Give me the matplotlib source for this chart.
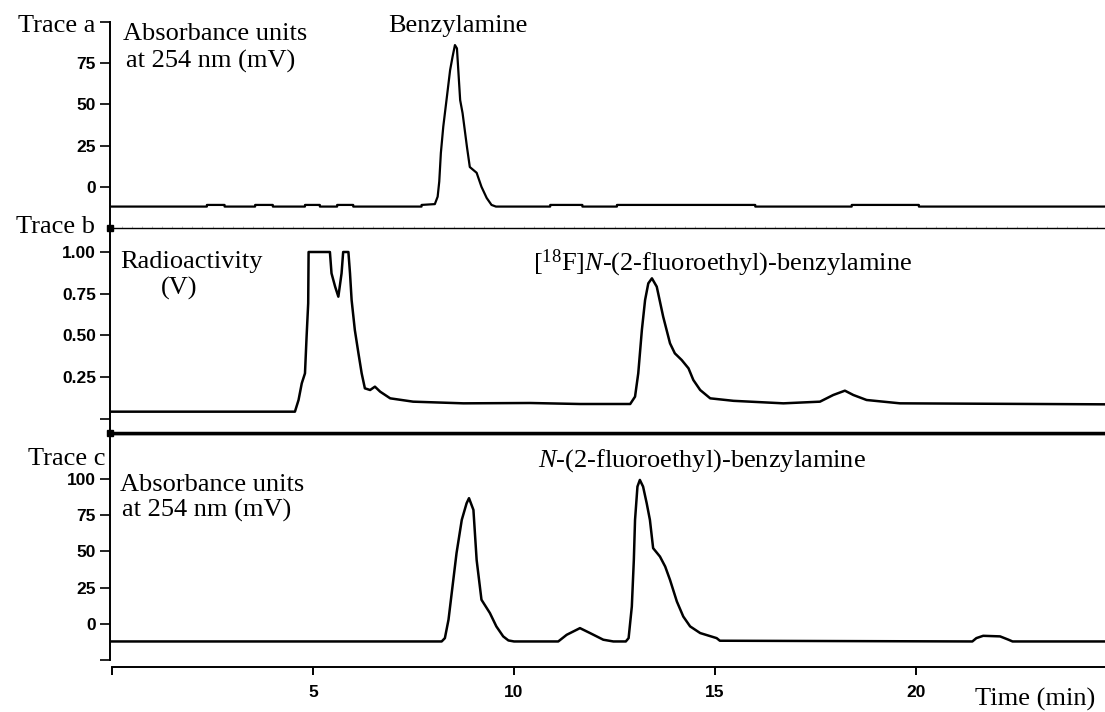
import matplotlib
matplotlib.use("Agg")
import matplotlib.pyplot as plt
from matplotlib.ticker import MultipleLocator

plt.rcParams['mathtext.fontset'] = 'custom'
plt.rcParams['mathtext.rm'] = 'Liberation Serif'
plt.rcParams['mathtext.it'] = 'Liberation Serif:italic'

# ---------------- data ----------------
# Trace a: UV absorbance (mV) of benzylamine standard
trace_a_time = [0.0, 2.36, 2.36, 2.8, 2.8, 3.56, 3.56, 4.0, 4.0, 4.8, 4.8, 5.17, 5.17,
                5.6, 5.6, 6.0, 6.0, 7.7, 7.7, 8.03, 8.1, 8.14, 8.18, 8.24, 8.33,
                8.41, 8.47, 8.53, 8.58, 8.66, 8.72, 8.83, 8.9, 9.07, 9.19, 9.32,
                9.44, 9.55, 10.9, 10.9, 11.7, 11.7, 12.56, 12.56, 16.0, 16.0,
                18.4, 18.4, 20.07, 20.07, 24.7]
trace_a_mv = [-12, -12, -11, -11, -12, -12, -11, -11, -12, -12, -11, -11, -12,
              -12, -11, -11, -12, -12, -11, -10.5, -6, 3.2, 20.5, 36.5, 54.6,
              70.8, 78.8, 86, 84, 52.6, 44.7, 24, 12, 8.5, 0, -6.8,
              -11, -12, -12, -11, -11, -12, -12, -11, -11, -12,
              -12, -11, -11, -12, -12]

# Trace b: radioactivity (V)
trace_b_time = [0.0, 4.55, 4.64, 4.72, 4.80, 4.84, 4.88, 4.89, 5.42, 5.46, 5.55,
                5.63, 5.71, 5.75, 5.88, 5.92, 5.96, 6.04, 6.13, 6.21, 6.29, 6.42,
                6.54, 6.67, 6.92, 7.49, 8.74, 10.4, 11.64, 12.89, 13.01, 13.09,
                13.18, 13.26, 13.34, 13.43, 13.55, 13.71, 13.88, 14.0, 14.17,
                14.34, 14.46, 14.63, 14.88, 15.46, 16.7, 17.61, 17.94, 18.23,
                18.44, 18.77, 19.6, 24.7]
trace_b_v = [0.042, 0.042, 0.112, 0.212, 0.272, 0.492, 0.692, 1.0, 1.0, 0.872, 0.792,
             0.732, 0.872, 1.0, 1.0, 0.872, 0.712, 0.532, 0.392, 0.272, 0.182, 0.172,
             0.192, 0.162, 0.122, 0.102, 0.092, 0.094, 0.088, 0.088, 0.132, 0.272,
             0.532, 0.712, 0.812, 0.842, 0.792, 0.612, 0.452, 0.392, 0.352,
             0.302, 0.232, 0.172, 0.122, 0.107, 0.092, 0.102, 0.142, 0.168,
             0.142, 0.112, 0.092, 0.086]

# Trace c: UV absorbance (mV), co-injection
trace_c_time = [0.0, 8.2, 8.28, 8.37, 8.45, 8.57, 8.7, 8.82, 8.88, 8.99, 9.07, 9.19,
                9.4, 9.56, 9.73, 9.86, 10.0, 11.1, 11.31, 11.64, 11.89, 12.22,
                12.47, 12.78, 12.85, 12.93, 12.98, 13.01, 13.07, 13.13, 13.21,
                13.3, 13.38, 13.46, 13.63, 13.76, 13.88, 14.05, 14.21, 14.38,
                14.63, 15.04, 15.12, 21.4, 21.5, 21.67, 22.09, 22.3, 22.4, 24.7]
trace_c_mv = [-12.2, -12.2, -9.9, 2.8, 21.2, 48.8, 71.7, 83.2, 86.7, 78.6, 44, 16.6,
              7.4, -1.8, -8.7, -11.5, -12.2, -12.2, -7.6, -3.0, -6.4, -11,
              -12.2, -12.2, -9.9, 11.9, 44, 71.7, 94.7, 99.3, 94.7,
              83.2, 71.7, 52.2, 46.4, 39.5, 30.3, 15.4, 5.0, -1.8,
              -6.4, -9.9, -11.7, -12.2, -9.9, -8.3, -8.7, -11, -12.2, -12.2]

x_ticks = [0, 5, 10, 15, 20]
x_tick_labels = ['', '5', '10', '15', '20']
a_ticks = [0, 25, 50, 75, 100]
a_tick_labels = ['0', '25', '50', '75', '']
b_ticks = [0, 0.25, 0.50, 0.75, 1.00]
b_tick_labels = ['', '0.25', '0.50', '0.75', '1.00']
c_ticks = [-25, 0, 25, 50, 75, 100]
c_tick_labels = ['', '0', '25', '50', '75', '100']

# ---------------- figure ----------------
W, H = 1105, 712
fig = plt.figure(figsize=(W / 100, H / 100), dpi=100)

def box(top_px, bottom_px, left_px=110):
    return [left_px / W, 1 - bottom_px / H, 1 - left_px / W, (bottom_px - top_px) / H]

ax_a = fig.add_axes(box(22, 228))
ax_b = fig.add_axes(box(228, 433))
ax_c = fig.add_axes(box(434, 660))

XMIN, XMAX = -0.05, 24.7
tick_font = dict(family='Liberation Sans', weight='bold', size=12.5)
serif = dict(family='Liberation Serif', size=19)

for ax in (ax_a, ax_b, ax_c):
    ax.set_xlim(XMIN, XMAX)
    ax.spines['right'].set_visible(False)
    ax.spines['top'].set_visible(False)
    ax.spines['left'].set_linewidth(1.4)
    ax.tick_params(axis='y', direction='out', length=7, width=1.2, pad=3)
    ax.set_facecolor('none')

ax_a.plot(trace_a_time, trace_a_mv, color='black', lw=1.6)
ax_b.plot(trace_b_time, trace_b_v, color='black', lw=1.8)
ax_c.plot(trace_c_time, trace_c_mv, color='black', lw=1.8)

ax_a.set_ylim(-25, 100)
ax_b.set_ylim(-0.086, 1.144)
ax_c.set_ylim(-25, 131)

ax_a.set_yticks(a_ticks)
ax_a.set_yticklabels(a_tick_labels, fontdict=tick_font)
ax_b.set_yticks(b_ticks)
ax_b.set_yticklabels(b_tick_labels, fontdict=tick_font)
ax_c.set_yticks(c_ticks)
ax_c.set_yticklabels(c_tick_labels, fontdict=tick_font)

# separators between the traces
ax_a.spines['bottom'].set_linewidth(1.0)
ax_a.xaxis.set_minor_locator(MultipleLocator(0.25))
ax_a.tick_params(axis='x', which='minor', direction='in', length=1.5, width=0.5,
                 color='#b0b0b0', labelbottom=False)
ax_a.tick_params(axis='x', which='major', length=0, labelbottom=False)
ax_b.spines['bottom'].set_linewidth(2.5)
ax_b.tick_params(axis='x', which='both', length=0, labelbottom=False)
ax_c.spines['top'].set_visible(True)
ax_c.spines['top'].set_linewidth(1.0)

# bottom time axis
ax_c.spines['bottom'].set_position(('outward', 5))
ax_c.spines['bottom'].set_linewidth(1.4)
ax_c.spines['bottom'].set_bounds(0, XMAX)
ax_c.set_xticks(x_ticks)
ax_c.set_xticklabels(x_tick_labels, fontdict=tick_font)
ax_c.tick_params(axis='x', direction='out', length=6, width=1.4, pad=7)

# small black marks on the y axis at the trace boundaries
for ax, yv in ((ax_b, 1.0), (ax_b, 0.0)):
    ax.plot([0], [yv], marker='s', ms=4, color='black', transform=ax.transAxes,
            clip_on=False)

def ftext(xpx, ypx, s, **kw):
    opts = dict(serif)
    opts.update(kw)
    fig.text(xpx / W, 1 - ypx / H, s, **opts)

ftext(95, 32, 'Trace a', ha='right', va='baseline')
ftext(123, 40, 'Absorbance units', ha='left', va='baseline')
ftext(126, 68, 'at 254 nm (mV)', ha='left', va='baseline')
ftext(388, 32, 'Benzylamine', ha='left', va='baseline')

ftext(95, 233, 'Trace b', ha='right', va='baseline')
ftext(120, 268, 'Radioactivity', ha='left', va='baseline')
ftext(179, 295, '(V)', ha='center', va='baseline')
ftext(533, 270, r'[$^{18}$F]$\mathit{N}$-(2-fluoroethyl)-benzylamine',
      ha='left', va='baseline')

ftext(105, 465, 'Trace c', ha='right', va='baseline')
ftext(120, 491, 'Absorbance units', ha='left', va='baseline')
ftext(122, 517, 'at 254 nm (mV)', ha='left', va='baseline')
ftext(538, 467, r'$\mathit{N}$-(2-fluoroethyl)-benzylamine', ha='left', va='baseline')

ftext(975, 706, 'Time (min)', ha='left', va='baseline')

fig.savefig('out.png', dpi=100, facecolor='white')
